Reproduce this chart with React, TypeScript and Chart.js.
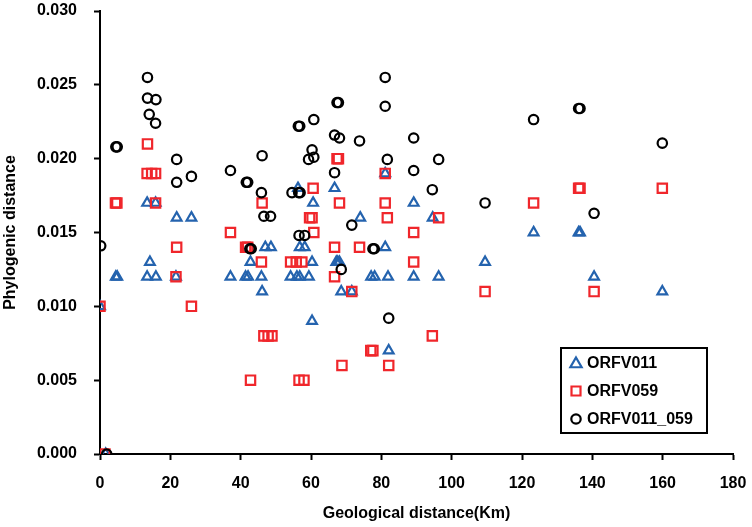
import React, { useEffect, useRef } from "react";
import { Chart, registerables } from "chart.js";

Chart.register(...registerables);

// ---- Data (x: geological distance in Km, y: phylogenic distance) ----
const seriesNames = ["ORFV011", "ORFV059", "ORFV011_059"];

const orfv011X = [13.4, 15.8, 21.8, 26.0, 56.3, 60.6, 47.0, 48.6, 4.5, 4.9, 0, 1.6, 14.2, 13.4, 15.9, 21.6, 37.1, 41.4, 42.1, 42.8, 45.9, 46.1, 54.2, 56.0, 56.8, 59.4, 56.8, 58.2, 60.3, 60.3, 66.7, 81.1, 89.2, 74.0, 94.6, 123.3, 81.1, 67.2, 68.1, 67.6, 109.5, 77.1, 78.1, 81.9, 89.2, 96.3, 68.6, 71.6, 82.1, 136.1, 136.5, 140.5, 159.9];
const orfv011Y = [0.017, 0.017, 0.016, 0.016, 0.018, 0.017, 0.014, 0.014, 0.012, 0.012, 0.010, 0.0, 0.013, 0.012, 0.012, 0.012, 0.012, 0.012, 0.012, 0.013, 0.012, 0.011, 0.012, 0.012, 0.012, 0.012, 0.014, 0.014, 0.013, 0.009, 0.018, 0.019, 0.017, 0.016, 0.016, 0.015, 0.014, 0.013, 0.013, 0.013, 0.013, 0.012, 0.012, 0.012, 0.012, 0.012, 0.011, 0.011, 0.007, 0.015, 0.015, 0.012, 0.011];

const orfv059X = [13.5, 13.4, 14.7, 15.8, 4.4, 4.8, 15.8, 21.8, 37.1, 46.1, 41.4, 42.0, 60.6, 59.6, 60.3, 60.8, 21.6, 0, 1.4, 26.0, 45.9, 42.8, 46.6, 47.8, 48.9, 54.2, 55.8, 57.4, 56.6, 58.0, 67.4, 67.8, 81.1, 68.1, 81.1, 123.3, 81.7, 96.3, 89.2, 66.7, 73.8, 136.1, 136.5, 159.9, 89.2, 66.7, 71.6, 109.5, 77.6, 77.0, 94.5, 68.8, 82.1, 140.5];
const orfv059Y = [0.021, 0.019, 0.019, 0.019, 0.017, 0.017, 0.017, 0.014, 0.015, 0.017, 0.014, 0.014, 0.018, 0.016, 0.016, 0.015, 0.012, 0.010, 0.0, 0.010, 0.013, 0.005, 0.008, 0.008, 0.008, 0.013, 0.013, 0.013, 0.005, 0.005, 0.020, 0.020, 0.019, 0.017, 0.017, 0.017, 0.016, 0.016, 0.015, 0.014, 0.014, 0.018, 0.018, 0.018, 0.013, 0.012, 0.011, 0.011, 0.007, 0.007, 0.008, 0.006, 0.006, 0.011];

const orfv011059X = [0.2, 1.9, 4.5, 4.9, 13.5, 13.5, 15.9, 14.0, 15.8, 21.8, 21.8, 26.0, 37.1, 41.6, 42.0, 46.1, 45.9, 46.6, 48.5, 42.6, 43.0, 54.6, 56.5, 56.9, 56.4, 56.8, 60.8, 60.3, 59.3, 60.8, 56.6, 58.2, 67.4, 67.8, 81.1, 81.1, 123.3, 66.7, 68.1, 73.8, 89.2, 81.7, 96.3, 66.7, 89.2, 94.5, 109.5, 71.6, 77.6, 78.0, 136.1, 136.5, 159.9, 140.5, 68.6, 82.1];
const orfv011059Y = [0.0141, 0.0, 0.0208, 0.0208, 0.0255, 0.0241, 0.024, 0.023, 0.0224, 0.01995, 0.0184, 0.0188, 0.0192, 0.0184, 0.0184, 0.0202, 0.0177, 0.0161, 0.0161, 0.0139, 0.0139, 0.0177, 0.0177, 0.0177, 0.0222, 0.0222, 0.02265, 0.0206, 0.01995, 0.0201, 0.0148, 0.0148, 0.0238, 0.0238, 0.0255, 0.02355, 0.02265, 0.0216, 0.0214, 0.0212, 0.0214, 0.01995, 0.01995, 0.01905, 0.0192, 0.0179, 0.017, 0.0155, 0.0139, 0.0139, 0.0234, 0.0234, 0.02105, 0.0163, 0.0125, 0.0092];

const xTickMin = 0;
const xTickMax = 180;
const xTickStep = 20;
const yTickMin = 0;
const yTickMax = 0.03;
const yTickStep = 0.005;

const xTitle = "Geological distance(Km)";
const yTitle = "Phylogenic distance";

const BLUE = "#2463AE";
const RED = "#F0262B";
const BLACK = "#000000";

const toPoints = (xs: number[], ys: number[]) => xs.map((x, i) => ({ x, y: ys[i] }));

const FONT = "'Liberation Sans', Arial, sans-serif";

const legendPlugin = {
  id: "boxLegend",
  afterDraw(chart: any) {
    const ctx: CanvasRenderingContext2D = chart.ctx;
    const bx = 561, by = 348, bw = 146, bh = 85;
    ctx.save();
    ctx.lineWidth = 2;
    ctx.strokeStyle = "#000";
    ctx.strokeRect(bx, by, bw, bh);
    const rows = chart.data.datasets;
    rows.forEach((ds: any, i: number) => {
      const cy = by + 15 + i * 28;
      const cx = bx + 15;
      ctx.strokeStyle = ds.borderColor;
      ctx.lineWidth = ds.borderWidth;
      ctx.beginPath();
      if (ds.pointStyle === "triangle") {
        const r = 6.5;
        for (let k = 0; k < 3; k++) {
          const a = (k * 2 * Math.PI) / 3;
          const px = cx + Math.sin(a) * r;
          const py = cy + 1 - Math.cos(a) * r;
          if (k === 0) ctx.moveTo(px, py);
          else ctx.lineTo(px, py);
        }
        ctx.closePath();
      } else if (ds.pointStyle === "rect") {
        ctx.rect(cx - 4.5, cy - 4.5, 9, 9);
      } else {
        ctx.arc(cx, cy, 4.7, 0, Math.PI * 2);
      }
      ctx.stroke();
      ctx.fillStyle = "#000";
      ctx.font = `bold 16px ${FONT}`;
      ctx.textBaseline = "middle";
      ctx.textAlign = "left";
      ctx.fillText(ds.label, cx + 11, cy + 1);
    });
    ctx.restore();
  },
};

export default function App() {
  const ref = useRef<HTMLCanvasElement | null>(null);

  useEffect(() => {
    if (!ref.current) return;
    const chart = new Chart(ref.current, {
      type: "scatter",
      data: {
        datasets: [
          {
            label: seriesNames[0],
            data: toPoints(orfv011X, orfv011Y),
            pointStyle: "triangle",
            pointRadius: 5.6,
            pointHoverRadius: 5.6,
            borderColor: BLUE,
            backgroundColor: "rgba(0,0,0,0)",
            borderWidth: 2.2,
            order: 3,
          },
          {
            label: seriesNames[1],
            data: toPoints(orfv059X, orfv059Y),
            pointStyle: "rect",
            pointRadius: 6.6,
            pointHoverRadius: 6.6,
            borderColor: RED,
            backgroundColor: "rgba(0,0,0,0)",
            borderWidth: 2.2,
            order: 2,
          },
          {
            label: seriesNames[2],
            data: toPoints(orfv011059X, orfv011059Y),
            pointStyle: "circle",
            pointRadius: 4.7,
            pointHoverRadius: 4.7,
            borderColor: BLACK,
            backgroundColor: "rgba(0,0,0,0)",
            borderWidth: 2.2,
            order: 1,
          },
        ],
      },
      options: {
        animation: false,
        responsive: true,
        maintainAspectRatio: false,
        layout: { padding: { top: 11, right: 19, left: 0, bottom: 0 } },
        plugins: {
          legend: { display: false },
          tooltip: { enabled: false },
        },
        scales: {
          x: {
            type: "linear",
            min: xTickMin,
            max: xTickMax,
            ticks: {
              stepSize: xTickStep,
              color: "#000",
              font: { family: FONT, size: 16, weight: "bold" },
              padding: 14,
              maxRotation: 0,
            },
            grid: {
              display: true,
              drawOnChartArea: false,
              drawTicks: true,
              tickLength: 6,
              tickWidth: 2,
              tickColor: "#000",
            },
            border: { display: true, color: "#000", width: 2 },
            title: {
              display: true,
              text: xTitle,
              color: "#000",
              font: { family: FONT, size: 16, weight: "bold" },
              padding: { top: 0, bottom: 4 },
            },
            afterFit(scale: any) {
              scale.height = 73;
              scale.paddingLeft = 0;
              scale.paddingRight = 0;
            },
          },
          y: {
            type: "linear",
            min: yTickMin,
            max: yTickMax,
            ticks: {
              stepSize: yTickStep,
              color: "#000",
              font: { family: FONT, size: 16, weight: "bold" },
              padding: 17,
              callback: (v: any) => Number(v).toFixed(3),
            },
            grid: {
              display: true,
              drawOnChartArea: false,
              drawTicks: true,
              tickLength: 6,
              tickWidth: 2,
              tickColor: "#000",
            },
            border: { display: true, color: "#000", width: 2 },
            title: {
              display: true,
              text: yTitle,
              color: "#000",
              font: { family: FONT, size: 16, weight: "bold" },
              padding: { top: 1, bottom: 0 },
            },
            afterFit(scale: any) {
              scale.width = 100;
              scale.paddingTop = 0;
              scale.paddingBottom = 0;
            },
          },
        },
      },
      plugins: [legendPlugin],
    });
    return () => chart.destroy();
  }, []);

  return (
    <div style={{ position: "fixed", left: 0, top: 0, width: 752, height: 527, background: "#fff" }}>
      <canvas ref={ref} />
    </div>
  );
}
